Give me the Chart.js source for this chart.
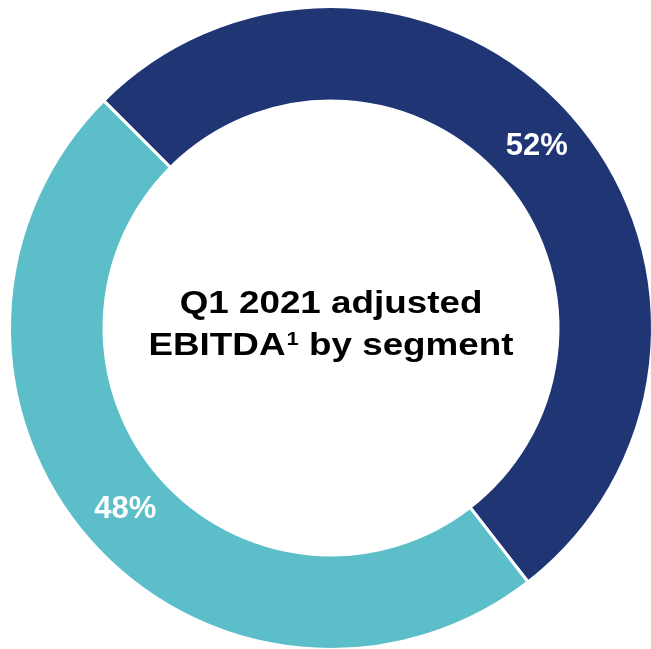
<!DOCTYPE html>
<html>
<head>
<meta charset="utf-8">
<script src="https://cdn.jsdelivr.net/npm/chart.js@4"></script>
<style>
  html, body { margin: 0; padding: 0; background: #fff; overflow: hidden; }
  #wrap { width: 680px; height: 680px; }
</style>
</head>
<body>
<div id="wrap"><canvas id="myChart" width="680" height="680"></canvas></div>
<script>
// Data
const segments = ["Segment A", "Segment B"];
const shares = [52, 48];
const segmentColors = ["#1f3574", "#5bbec9"];
const centerLines = ["Q1 2021 adjusted", "EBITDA", "1", " by segment"];

const ctx = document.querySelector("#myChart").getContext("2d");

// --------------------------- Plugins ---------------------------
const percentLabels = {
    id: "percentLabels",
    afterDatasetsDraw(chart) {
        const c = chart.ctx;
        const meta = chart.getDatasetMeta(0);
        c.save();
        c.fillStyle = "#ffffff";
        c.font = "bold 31px 'Liberation Sans', Arial, sans-serif";
        c.textAlign = "center";
        c.textBaseline = "middle";
        meta.data.forEach((arc, i) => {
            const pos = arc.tooltipPosition();
            c.fillText(shares[i] + "%", pos.x, pos.y);
        });
        c.restore();
    },
};

const centerText = {
    id: "centerText",
    afterDraw(chart) {
        const c = chart.ctx;
        const meta = chart.getDatasetMeta(0);
        const cx = meta.data[0].x;
        const stretch = 1.15;
        const big = "bold 32px 'Liberation Sans', Arial, sans-serif";
        const small = "bold 19px 'Liberation Sans', Arial, sans-serif";
        c.save();
        c.fillStyle = "#000000";
        c.textBaseline = "alphabetic";
        c.textAlign = "left";

        // line 1
        c.font = big;
        let w1 = c.measureText(centerLines[0]).width * stretch;
        c.save();
        c.translate(cx - w1 / 2, 313);
        c.scale(stretch, 1);
        c.fillText(centerLines[0], 0, 0);
        c.restore();

        // line 2 with superscript
        c.font = big;
        const wa = c.measureText(centerLines[1]).width;
        const wc = c.measureText(centerLines[3]).width;
        c.font = small;
        const wb = c.measureText(centerLines[2]).width + 1;
        const w2 = (wa + wb + wc) * stretch;
        c.save();
        c.translate(cx - w2 / 2, 355);
        c.scale(stretch, 1);
        c.font = big;
        c.fillText(centerLines[1], 0, 0);
        c.font = small;
        c.fillText(centerLines[2], wa + 1, -10);
        c.font = big;
        c.fillText(centerLines[3], wa + wb, 0);
        c.restore();
        c.restore();
    },
};

// Chart object
const segmentChart = new Chart(ctx, {
    type: "doughnut",
    data: {
        labels: segments,
        datasets: [{
            data: shares,
            backgroundColor: segmentColors,
            borderColor: "#ffffff",
            borderWidth: 3,
        }],
    },
    options: {
        responsive: false,
        animation: false,
        rotation: -45,
        cutout: "70.6%",
        layout: {
            padding: { left: 8, top: 5, right: 26, bottom: 29 },
        },
        plugins: {
            legend: { display: false },
            tooltip: { enabled: false },
        },
    },
    plugins: [percentLabels, centerText],
});
</script>
</body>
</html>
